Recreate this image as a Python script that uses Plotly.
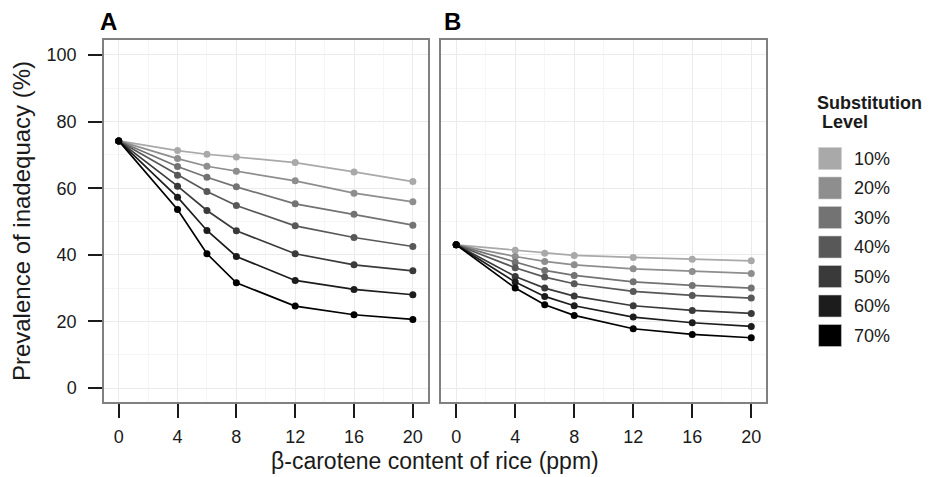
import plotly.graph_objects as go

# ---------------- data ----------------
beta_ppm = [0, 4, 6, 8, 12, 16, 20]
levels = ["10%", "20%", "30%", "40%", "50%", "60%", "70%"]
level_colors = ["#a9a9a9", "#8e8e8e", "#737373", "#585858", "#3a3a3a", "#1c1c1c", "#000000"]
x_ticks = [0, 4, 8, 12, 16, 20]
y_ticks = [0, 20, 40, 60, 80, 100]

# Panel A
a_10 = [74.2, 71.3, 70.2, 69.4, 67.7, 64.9, 62.0]
a_20 = [74.2, 68.9, 66.6, 65.1, 62.2, 58.5, 55.9]
a_30 = [74.2, 66.5, 63.3, 60.4, 55.3, 52.2, 48.9]
a_40 = [74.2, 63.9, 59.0, 54.8, 48.7, 45.2, 42.5]
a_50 = [74.2, 60.6, 53.3, 47.2, 40.3, 37.0, 35.2]
a_60 = [74.2, 57.3, 47.3, 39.5, 32.3, 29.6, 28.0]
a_70 = [74.2, 53.6, 40.3, 31.6, 24.6, 22.0, 20.6]

# Panel B
b_10 = [43.0, 41.4, 40.5, 39.8, 39.2, 38.7, 38.2]
b_20 = [43.0, 39.5, 38.0, 37.0, 35.8, 35.0, 34.4]
b_30 = [43.0, 37.8, 35.3, 33.8, 31.9, 30.8, 30.0]
b_40 = [43.0, 36.1, 33.3, 31.3, 29.0, 27.8, 27.0]
b_50 = [43.0, 33.5, 30.0, 27.6, 24.7, 23.3, 22.4]
b_60 = [43.0, 31.8, 27.5, 24.7, 21.3, 19.6, 18.5]
b_70 = [43.0, 30.0, 25.0, 21.8, 17.8, 16.1, 15.1]

panel_a = [a_10, a_20, a_30, a_40, a_50, a_60, a_70]
panel_b = [b_10, b_20, b_30, b_40, b_50, b_60, b_70]

FONT = "Liberation Sans, Arial, sans-serif"

fig = go.Figure()
for ax, series in (("", panel_a), ("2", panel_b)):
    for name, col, vals in zip(levels, level_colors, series):
        fig.add_trace(go.Scatter(
            x=beta_ppm, y=vals, mode="lines+markers", name=name,
            line=dict(color=col, width=1.7),
            marker=dict(color=col, size=7),
            xaxis="x" + ax, yaxis="y" + ax, showlegend=False,
        ))

# page body has an 8px margin: figure is placed at (8, 8) in the window
OFF = 8
W, H = 932 - OFF, 477 - OFF
ML = 99 - OFF
MT = 40 - OFF
MR = W - (766 - OFF)
MB = H - (402 - OFF)
pw = W - ML - MR
ph = H - MT - MB


def px(x):  # window x -> paper x
    return (x - OFF - ML) / pw


def py(y):  # window y -> paper y
    return (H - MB - (y - OFF)) / ph


common_x = dict(
    range=[-1, 21], tickvals=x_ticks, ticks="outside", ticklen=14, tickwidth=2,
    tickcolor="#1a1a1a", showline=True, mirror=True, linecolor="#808080", linewidth=1.5,
    showgrid=True, gridcolor="#ebebeb", gridwidth=1.2, zeroline=False,
    minor=dict(tickvals=[2, 6, 10, 14, 18], showgrid=True, gridcolor="#f5f5f5", gridwidth=1),
    tickfont=dict(family=FONT, size=18, color="#1a1a1a"),
    ticklabelstandoff=4,
)
common_y = dict(
    range=[-4.2, 104.5], tickvals=y_ticks, showline=True, mirror=True,
    linecolor="#808080", linewidth=1.5, showgrid=True, gridcolor="#ebebeb", gridwidth=1.2,
    zeroline=False,
    minor=dict(tickvals=[10, 30, 50, 70, 90], showgrid=True, gridcolor="#f5f5f5", gridwidth=1),
    tickfont=dict(family=FONT, size=18, color="#1a1a1a"),
)

fig.update_layout(
    width=W, height=H, margin=dict(l=ML, r=MR, t=MT, b=MB),
    paper_bgcolor="white", plot_bgcolor="white", showlegend=False,
    xaxis=dict(common_x, domain=[0, px(425)], anchor="y"),
    xaxis2=dict(common_x, domain=[px(439), 1], anchor="y2"),
    yaxis=dict(common_y, domain=[0, 1], anchor="x", ticks="outside", ticklen=14,
               tickwidth=2, tickcolor="#1a1a1a", ticklabelstandoff=8,
               title=dict(text="Prevalence of inadequacy (%)", standoff=10,
                          font=dict(family=FONT, size=24, color="#1a1a1a"))),
    yaxis2=dict(common_y, domain=[0, 1], anchor="x2", showticklabels=False, ticks=""),
)

annotations = [
    dict(text="β-carotene content of rice (ppm)", x=px(432), y=py(461), xref="paper", yref="paper",
         showarrow=False, xanchor="center", yanchor="middle",
         font=dict(family=FONT, size=23, color="#1a1a1a")),
    dict(text="<b>A</b>", x=px(93), y=py(21), xref="paper", yref="paper", showarrow=False,
         xanchor="left", yanchor="middle", font=dict(family=FONT, size=24, color="#000000")),
    dict(text="<b>B</b>", x=px(440), y=py(21), xref="paper", yref="paper", showarrow=False,
         xanchor="left", yanchor="middle", font=dict(family=FONT, size=24, color="#000000")),
    dict(text="<b>Substitution</b>", x=px(815), y=py(103), xref="paper", yref="paper",
         showarrow=False, xanchor="left", yanchor="middle",
         font=dict(family=FONT, size=18, color="#1a1a1a")),
    dict(text="<b> Level</b>", x=px(815), y=py(122), xref="paper", yref="paper",
         showarrow=False, xanchor="left", yanchor="middle",
         font=dict(family=FONT, size=18, color="#1a1a1a")),
]
shapes = []
for i, (name, col) in enumerate(zip(levels, level_colors)):
    cy = 158.5 + i * 29.5
    shapes.append(dict(type="rect", xref="paper", yref="paper",
                       x0=px(819), x1=px(842), y0=py(cy - 11), y1=py(cy + 11),
                       fillcolor=col, line=dict(color="#cccccc", width=0.6)))
    annotations.append(dict(text=name, x=px(853), y=py(cy), xref="paper", yref="paper",
                            showarrow=False, xanchor="left", yanchor="middle",
                            font=dict(family=FONT, size=18, color="#1a1a1a")))

fig.update_layout(annotations=annotations, shapes=shapes)
fig.write_html("out.html")
